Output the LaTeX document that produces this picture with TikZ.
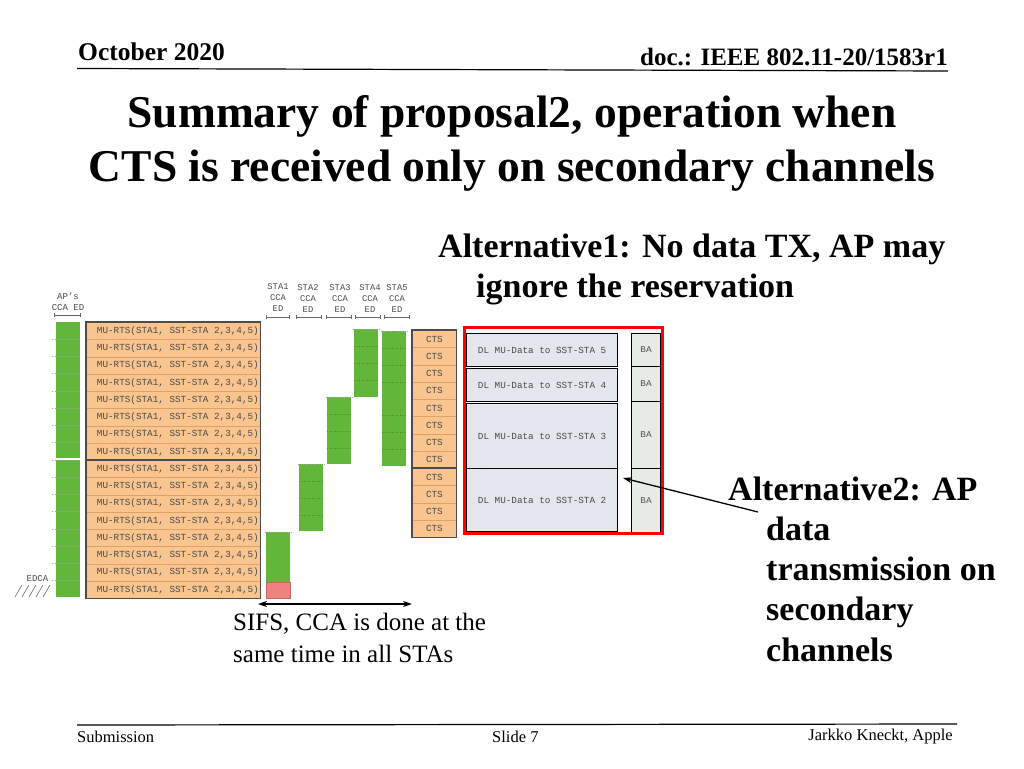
\documentclass[tikz,border=0pt]{standalone}
\usepackage{fontspec}
\setmainfont{Liberation Serif}
\setmonofont{Liberation Mono}
\setsansfont{Liberation Sans}
\usetikzlibrary{arrows.meta}
\definecolor{rtsorange}{HTML}{F9C48E}
\definecolor{ccagreen}{HTML}{62B73A}
\definecolor{ccared}{HTML}{F08282}
\definecolor{datagray}{HTML}{E3E6EC}
\definecolor{bagray}{HTML}{E6EBE5}
\definecolor{rowline}{HTML}{D9A466}
\definecolor{monotext}{HTML}{4A4A4A}
\tikzset{
  rtsrow/.style={draw=rowline, fill=rtsorange, line width=0.8pt, inner sep=0pt,
    minimum width=174pt, minimum height=17.25pt, anchor=north west,
    font=\fontsize{9.3}{10}\selectfont\ttfamily, text=monotext},
  ctsrow/.style={rtsrow, minimum width=44pt},
  groupborder/.style={draw=black!70, line width=1.3pt},
  greenbar/.style={fill=ccagreen, inner sep=0pt, anchor=north west, minimum width=24pt},
  redbar/.style={fill=ccared, draw=ccared!80!black, line width=0.3pt, inner sep=0pt, anchor=north west, minimum width=24pt},
  stalabel/.style={align=center, font=\fontsize{8.8}{11}\selectfont\ttfamily, text=monotext, inner sep=0pt},
  bracketline/.style={draw=black!60, line width=0.6pt, {Bar[width=4pt]}-{Bar[width=4pt]}},
  dotline/.style={draw=black!35, dotted, line width=0.6pt},
  greendot/.style={draw=ccagreen!75!black, dotted, line width=0.5pt},
  databox/.style={draw=black, fill=datagray, line width=1.3pt, inner sep=0pt, anchor=north west,
    minimum width=151pt, font=\fontsize{9.3}{10}\selectfont\ttfamily, text=monotext},
  babox/.style={draw=black, fill=bagray, line width=1pt, inner sep=0pt, anchor=north west,
    minimum width=29pt, font=\fontsize{8.5}{10}\selectfont\sffamily, text=monotext},
  bigtext/.style={font=\fontsize{34}{40}\selectfont\bfseries, anchor=base west, inner sep=0pt},
  sifstext/.style={font=\fontsize{25}{30}\selectfont, anchor=base west, inner sep=0pt},
  foottext/.style={font=\fontsize{16.5}{20}\selectfont, inner sep=0pt},
  arrowline/.style={draw=black, line width=1.3pt},
}
\begin{document}
\begin{tikzpicture}[x=1pt,y=-1pt]
\useasboundingbox[fill=white] (0,0) rectangle (1024,768);

% header
\node[font=\fontsize{25.5}{30}\selectfont\bfseries, anchor=base west, inner sep=0pt] (date) at (78,60) {October 2020};
\node[font=\fontsize{25}{30}\selectfont\bfseries, anchor=base east, inner sep=0pt] (doc) at (948,65) {doc.: IEEE 802.11-20/1583r1};
\draw[line width=1.2pt] (77,68.5) -- (948,71);

% title
\node[font=\fontsize{45.5}{50}\selectfont\bfseries, anchor=base, inner sep=0pt] (title1) at (512,127) {Summary of proposal2, operation when};
\node[font=\fontsize{45.5}{50}\selectfont\bfseries, anchor=base, inner sep=0pt] (title2) at (512,181) {CTS is received only on secondary channels};

% alternative 1 text
\node[bigtext] (alt1a) at (438,257) {Alternative1: No data TX, AP may};
\node[bigtext] (alt1b) at (476,297) {ignore the reservation};

% AP's CCA ED label
\node[stalabel, font=\fontsize{9}{11}\selectfont\ttfamily] (aplabel) at (68,301.5) {AP’s\\CCA ED};
\draw[bracketline] (54,315) -- (81,315);

% AP green
\node[greenbar, minimum height=136pt] (apA) at (56,322) {};
\node[greenbar, minimum height=137pt] (apB) at (56,460) {};
\foreach \i in {1,...,15} {
  \draw[dotline] (52,{322+\i*17.25}) -- (79,{322+\i*17.25});
}

% MU-RTS rows
\foreach \i in {0,...,15} {
  \node[rtsrow] (rts\i) at (86,{322+\i*17.25}) {\hspace*{9pt}MU-RTS(STA1, SST-STA 2,3,4,5)};
}
\draw[groupborder] (rts0.north west) rectangle (rts7.south east);
\draw[groupborder] (rts8.north west) rectangle (rts15.south east);

% EDCA
\node[stalabel, font=\fontsize{9}{11}\selectfont\ttfamily] (edca) at (37.5,579) {EDCA};
\foreach \x in {15,22,29,36,43} {
  \draw[black!60, line width=0.6pt] (\x,597) -- (\x+7,585);
}

% STA labels
\node[stalabel] (sta1l) at (278,298) {STA1\\CCA\\ED};
\node[stalabel] (sta2l) at (308,299) {STA2\\CCA\\ED};
\node[stalabel] (sta3l) at (340,299) {STA3\\CCA\\ED};
\node[stalabel] (sta4l) at (370,299) {STA4\\CCA\\ED};
\node[stalabel] (sta5l) at (397,299) {STA5\\CCA\\ED};
\draw[bracketline] (266,317) -- (290,317);
\draw[bracketline] (296,317) -- (322,317);
\draw[bracketline] (326,317) -- (352,317);
\draw[bracketline] (355,317) -- (381,317);
\draw[bracketline] (384,317) -- (410,317);

% STA green bars
\node[greenbar, minimum height=50pt] (sta1g) at (266,532) {};
\node[redbar, minimum height=16pt] (sta1r) at (266,582) {};
\node[greenbar, minimum height=67pt] (sta2g) at (299,464) {};
\node[greenbar, minimum height=67pt] (sta3g) at (327,397) {};
\node[greenbar, minimum height=68pt] (sta4g) at (354,329) {};
\node[greenbar, minimum height=67pt] (sta5g) at (382,331) {};
\node[greenbar, minimum height=68pt] (sta5h) at (382,398) {};
\foreach \n in {sta1g,sta2g,sta3g,sta4g,sta5g} {
  \draw[dotline] ([xshift=-1pt]\n.north west) -- ([xshift=2pt]\n.north east);
}
\foreach \n in {sta2g,sta3g,sta4g,sta5g,sta5h} {
  \draw[greendot] ([yshift=-17pt]\n.north west) -- ([yshift=-17pt]\n.north east);
  \draw[greendot] ([yshift=-34pt]\n.north west) -- ([yshift=-34pt]\n.north east);
  \draw[greendot] ([yshift=-51pt]\n.north west) -- ([yshift=-51pt]\n.north east);
}

% CTS rows
\foreach \i in {0,...,11} {
  \node[ctsrow] (cts\i) at (412,{330+\i*17.25}) {CTS};
}
\draw[groupborder] (cts0.north west) rectangle (cts7.south east);
\draw[groupborder] (cts8.north west) rectangle (cts11.south east);

% DL data boxes
\node[databox, minimum height=33pt] (dl5) at (466,333) {DL MU-Data to SST-STA 5};
\node[databox, minimum height=33pt] (dl4) at (466,368) {DL MU-Data to SST-STA 4};
\node[databox, minimum height=65pt] (dl3) at (466,403) {DL MU-Data to SST-STA 3};
\node[databox, minimum height=63pt] (dl2) at (466,468) {DL MU-Data to SST-STA 2};

% BA boxes
\node[babox, minimum height=33pt] (ba5) at (631,333) {BA};
\node[babox, minimum height=35pt] (ba4) at (631,366) {BA};
\node[babox, minimum height=67pt] (ba3) at (631,401) {BA};
\node[babox, minimum height=64pt] (ba2) at (631,468) {BA};

% red frame
\node[draw=red, line width=3pt, inner sep=0pt, anchor=north west, minimum width=198pt, minimum height=206pt] (redframe) at (463,326) {};

% alternative 2 text
\node[bigtext] (alt2a) at (728,500) {Alternative2: AP};
\node[bigtext] (alt2b) at (766,540) {data};
\node[bigtext] (alt2c) at (766,580) {transmission on};
\node[bigtext] (alt2d) at (766,620) {secondary};
\node[bigtext] (alt2e) at (766,661) {channels};
\coordinate (alt2tail) at (758,512);
\coordinate (alt2tip) at (623,478);
\draw[arrowline, -{Stealth[length=9pt,width=6pt]}] (alt2tail) -- (alt2tip);

% SIFS arrow and text
\coordinate (sifsL) at (258,604);
\coordinate (sifsR) at (412,604);
\draw[arrowline, {Stealth[length=9pt,width=6pt]}-{Stealth[length=9pt,width=6pt]}] (sifsL) -- (sifsR);
\node[sifstext] (sifs1) at (233,630) {SIFS, CCA is done at the};
\node[sifstext] (sifs2) at (233,662) {same time in all STAs};

% footer
\draw[line width=1.2pt] (77,725) -- (957,724);
\node[foottext, anchor=base west] (subm) at (77,742) {Submission};
\node[foottext, anchor=base west] (slide) at (492,742) {Slide 7};
\node[foottext, anchor=base east] (author) at (953,740) {Jarkko Kneckt, Apple};
\end{tikzpicture}
\end{document}
